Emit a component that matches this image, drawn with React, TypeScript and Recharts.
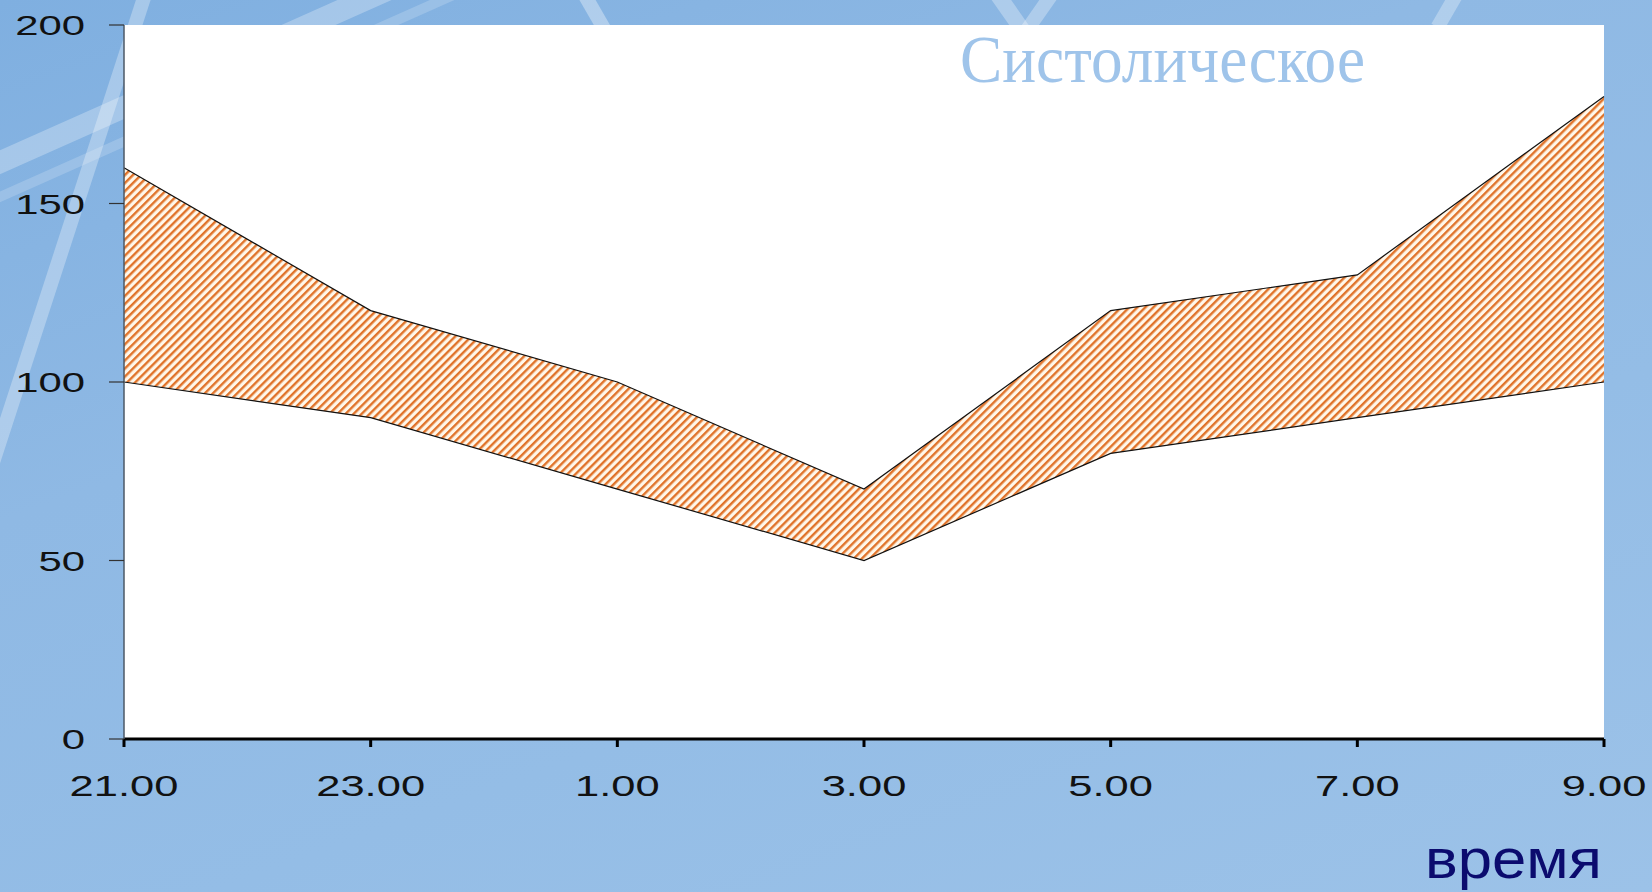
import { AreaChart, Area, XAxis, YAxis, CartesianGrid } from 'recharts';

const hours = ['21.00', '23.00', '1.00', '3.00', '5.00', '7.00', '9.00'];
const lower = [100, 90, 70, 50, 80, 90, 100];
const upper = [160, 120, 100, 70, 120, 130, 180];
const yTicks = [0, 50, 100, 150, 200];

const data = hours.map((h, i) => ({ hour: h, range: [lower[i], upper[i]] }));

const HATCH = '#e0732a';
const HATCH_BG = '#fff7ea';
const TICK_FONT = '"Liberation Sans", Arial, sans-serif';

function YTick({ x, y, payload }: any) {
  return (
    <g transform={`translate(${x},${y})`}>
      <text x={0} y={0} dy={10} textAnchor="end" transform="scale(1.55,1)"
        fontFamily={TICK_FONT} fontSize={27} fill="#111">
        {payload.value}
      </text>
    </g>
  );
}

function XTick({ x, y, payload }: any) {
  return (
    <g transform={`translate(${x},${y})`}>
      <text x={0} y={0} dy={47} textAnchor="middle" transform="scale(1.45,1)"
        fontFamily={TICK_FONT} fontSize={30} fill="#111">
        {payload.value}
      </text>
    </g>
  );
}

// light streaks of the slide background
const streaks = [
  { left: -60, top: 40, w: 620, h: 22, rot: -24, a: 0.28 },
  { left: -40, top: 85, w: 560, h: 10, rot: -24, a: 0.18 },
  { left: -260, top: 280, w: 620, h: 14, rot: -72, a: 0.3 },
  { left: 520, top: -20, w: 120, h: 14, rot: 60, a: 0.35 },
  { left: 960, top: -10, w: 80, h: 16, rot: 55, a: 0.3 },
  { left: 1010, top: -10, w: 80, h: 14, rot: -55, a: 0.3 },
  { left: 1420, top: -10, w: 70, h: 14, rot: -60, a: 0.3 },
  { left: 1480, top: 560, w: 520, h: 18, rot: -75, a: 0.18 },
];

export default function App() {
  return (
    <div style={{
      position: 'absolute', left: 0, top: 0, width: 1652, height: 892, overflow: 'hidden',
      background: 'linear-gradient(160deg, #7fafe0 0%, #8fb9e4 35%, #94bde6 65%, #9cc2e8 100%)',
    }}>
      {streaks.map((s, i) => (
        <div key={i} style={{
          position: 'absolute', left: s.left, top: s.top, width: s.w, height: s.h,
          background: `rgba(255,255,255,${s.a})`, transform: `rotate(${s.rot}deg)`,
        }} />
      ))}
      <div style={{ position: 'absolute', left: 0, top: 0 }}>
        <AreaChart width={1652} height={892} data={data}
          margin={{ top: 25, right: 48, bottom: 93, left: 0 }}>
          <defs>
            <pattern id="hatch" width={5.7} height={5.7} patternUnits="userSpaceOnUse"
              patternTransform="rotate(45)">
              <rect width={5.7} height={5.7} fill={HATCH_BG} />
              <rect width={2.4} height={5.7} fill={HATCH} />
            </pattern>
          </defs>
          <CartesianGrid horizontal={false} vertical={false} fill="#ffffff" fillOpacity={1} />
          <XAxis dataKey="hour" height={60} interval={0}
            axisLine={{ stroke: '#000', strokeWidth: 3 }}
            tickLine={{ stroke: '#000', strokeWidth: 3 }}
            tickSize={8} tickMargin={2} tick={<XTick />} />
          <XAxis xAxisId="top" dataKey="hour" orientation="top" height={0}
            tick={false} tickLine={false} axisLine={{ stroke: '#7d97b3', strokeWidth: 1.5 }} />
          <YAxis domain={[0, 200]} ticks={yTicks} width={124} interval={0}
            axisLine={{ stroke: '#4d5966', strokeWidth: 1.5 }}
            tickLine={{ stroke: '#333', strokeWidth: 1.2 }}
            tickSize={15} tickMargin={24} tick={<YTick />} />
          <YAxis yAxisId="right" orientation="right" width={0} domain={[0, 200]}
            tick={false} tickLine={false} axisLine={{ stroke: '#c9d6e4', strokeWidth: 1 }} />
          <Area type="linear" dataKey="range" stroke="#111" strokeWidth={1.2}
            fill="url(#hatch)" fillOpacity={1} isAnimationActive={false} dot={false} activeDot={false} />
        </AreaChart>
      </div>
      <svg width={1652} height={892} style={{ position: 'absolute', left: 0, top: 0, pointerEvents: 'none' }}>
        <text x={960} y={82} textLength={405} lengthAdjust="spacingAndGlyphs"
          fontFamily='"Liberation Serif", "Times New Roman", serif' fontSize={68} fill="#9fc4ea">
          Систолическое
        </text>
        <text x={1425} y={878} textLength={177} lengthAdjust="spacingAndGlyphs"
          fontFamily={TICK_FONT} fontSize={56} fill="#0b0b6e">
          время
        </text>
      </svg>
    </div>
  );
}
